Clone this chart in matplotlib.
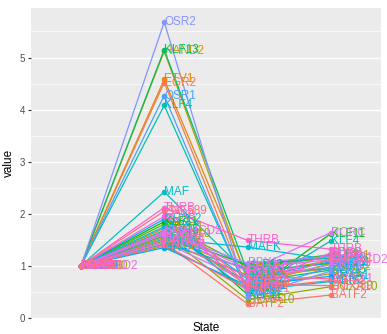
import numpy as np
import matplotlib
matplotlib.use("Agg")
import matplotlib.pyplot as plt

# expression per gene across four states (state 1 normalised to 1)
genes = ["BATF2", "EGR2", "ETV1", "FOXC1", "FOXP1", "HAND2", "HEY1", "HOXA10",
         "ID2", "IRX3", "KLF11", "KLF12", "KLF13", "KLF15", "KLF2", "KLF4",
         "MAF", "MAFK", "MEIS2", "NR2F2", "NR4A1", "OSR1", "OSR2", "PBX1",
         "PRRX1", "RORC", "SMARCD2", "SOX9", "THRB", "TWIST1", "ZNF521", "ZNF589"]
state1 = [1.0] * 32
state2 = [1.45, 4.52, 4.58, 1.72, 1.55, 5.12, 1.38, 1.62,
          1.48, 1.80, 1.85, 1.58, 5.15, 1.68, 1.42, 4.08,
          2.42, 1.52, 1.75, 1.90, 1.35, 4.27, 5.68, 1.64,
          1.45, 1.60, 1.66, 1.95, 2.12, 1.50, 1.40, 2.05]
state3 = [0.27, 0.55, 0.78, 0.62, 0.92, 0.72, 0.58, 0.35,
          0.82, 0.98, 0.45, 1.02, 0.88, 0.68, 0.95, 0.50,
          0.85, 1.36, 0.52, 0.75, 0.62, 0.48, 0.40, 1.05,
          0.70, 0.90, 0.95, 0.60, 1.49, 0.80, 0.55, 0.65]
state4 = [0.44, 0.72, 0.95, 1.05, 1.18, 0.98, 0.85, 0.60,
          1.10, 1.22, 1.62, 1.15, 1.05, 0.92, 1.20, 1.48,
          0.95, 1.12, 0.70, 1.08, 0.80, 0.98, 0.90, 1.18,
          1.02, 1.64, 1.12, 1.25, 1.32, 0.75, 1.15, 0.62]
states = ["1", "2", "3", "4"]


def hcl_hex(h, c=100.0, l=65.0):
    # polar CIELUV -> sRGB, same as R's hcl()
    Xn, Yn, Zn = 95.047, 100.0, 108.883
    un = 4 * Xn / (Xn + 15 * Yn + 3 * Zn)
    vn = 9 * Yn / (Xn + 15 * Yn + 3 * Zn)
    u = c * np.cos(np.radians(h))
    v = c * np.sin(np.radians(h))
    Y = Yn * ((l + 16) / 116) ** 3
    up = u / (13 * l) + un
    vp = v / (13 * l) + vn
    X = Y * 9 * up / (4 * vp)
    Z = Y * (12 - 3 * up - 20 * vp) / (4 * vp)
    X, Y, Z = X / 100, Y / 100, Z / 100
    r = 3.2404542 * X - 1.5371385 * Y - 0.4985314 * Z
    g = -0.9692660 * X + 1.8760108 * Y + 0.0415560 * Z
    b = 0.0556434 * X - 0.2040259 * Y + 1.0572252 * Z
    out = []
    for ch in (r, g, b):
        ch = 12.92 * ch if ch <= 0.0031308 else 1.055 * ch ** (1 / 2.4) - 0.055
        out.append(min(max(ch, 0), 1))
    return tuple(out)


n = len(genes)
hues = np.linspace(15, 375, n + 1)[:-1]
colors = [hcl_hex(h) for h in hues]

data = np.array([state1, state2, state3, state4]).T
xs = np.arange(len(states))

plt.rcParams["font.family"] = ["Liberation Sans", "DejaVu Sans"]
fig = plt.figure(figsize=(3.87, 3.34), dpi=100)
ax = fig.add_axes([0.080, 0.048, 0.904, 0.928])
ax.set_facecolor("#EBEBEB")

for i in range(n):
    ax.plot(xs, data[i], color=colors[i], lw=0.9, zorder=3)
for i in range(n):
    ax.plot(xs, data[i], "o", color=colors[i], ms=3, zorder=4)
for i in range(n):
    for j in range(len(states)):
        ax.text(xs[j], data[i, j], genes[i], color=colors[i], fontsize=8.5,
                ha="left", va="center", zorder=5)

lo, hi = data.min(), data.max()
pad = (hi - lo) * 0.05
ax.set_ylim(lo - pad, hi + pad)
ax.set_xlim(-0.6, len(states) - 1 + 0.6)

ax.set_yticks(range(0, 6))
ax.set_yticks(np.arange(0.5, 6, 1.0), minor=True)
ax.set_xticks([])
ax.grid(True, which="major", axis="y", color="white", lw=1.0, zorder=1)
ax.grid(True, which="minor", axis="y", color="white", lw=0.5, zorder=1)
ax.set_axisbelow(True)
for s in ax.spines.values():
    s.set_visible(False)
ax.tick_params(axis="y", which="major", length=2, width=0.8, color="#333333",
               labelsize=7, labelcolor="#4D4D4D", pad=2)
ax.tick_params(axis="y", which="minor", length=0)

ax.set_xlabel("State", fontsize=8.5, labelpad=3)
ax.set_ylabel("value", fontsize=8.5, labelpad=4)

fig.savefig("out.png", dpi=100)
